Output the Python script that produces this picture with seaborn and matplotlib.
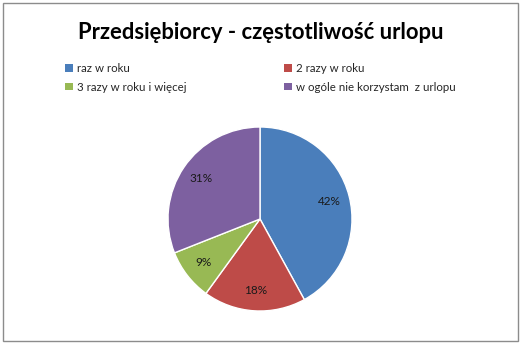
"""Pie chart: Przedsiębiorcy - częstotliwość urlopu."""
import matplotlib
matplotlib.use("Agg")
import matplotlib.pyplot as plt
from matplotlib.patches import Patch, Rectangle
import seaborn as sns

categories = ["raz w roku", "2 razy w roku", "3 razy w roku i więcej",
              "w ogóle nie korzystam  z urlopu"]
values = [42, 18, 9, 31]
colors = ["#4A7EBB", "#BE4B48", "#98B954", "#7D60A0"]

sns.set_theme(style="white")
plt.rcParams["font.family"] = ["Lato", "DejaVu Sans"]

fig = plt.figure(figsize=(5.21, 3.44), dpi=100)
fig.patch.set_facecolor("white")

# outer frame like the Excel chart area
fig.add_artist(Rectangle((0.006, 0.009), 0.988, 0.982, transform=fig.transFigure,
                         fill=False, edgecolor="#8c8c8c", lw=1.0))

fig.text(0.5, 0.905, "Przedsiębiorcy - częstotliwość urlopu", ha="center",
         va="center", fontsize=15.8, fontweight="bold", color="black")

# pie: centre (260, 219) px, radius ~92 px
ax = fig.add_axes([(260 - 92) / 521, 1 - (219 + 92) / 344, 184 / 521, 184 / 344])
wedges, _, autotexts = ax.pie(values, colors=colors, startangle=90,
                              counterclock=False, autopct="%1.0f%%",
                              pctdistance=0.78,
                              textprops={"fontsize": 8.5, "color": "#1a1a1a"})
ax.set_xlim(-1, 1)
ax.set_ylim(-1, 1)
ax.set_aspect("equal")

# legend filled row by row, like the reference
order = [0, 2, 1, 3]
handles = [Patch(facecolor=colors[i], edgecolor="none") for i in order]
labels = [categories[i] for i in order]
fig.legend(handles, labels, ncol=2, loc="upper left",
           bbox_to_anchor=(0.105, 0.847), frameon=False, fontsize=8.3,
           handlelength=0.65, handleheight=0.65, handletextpad=0.35,
           columnspacing=8.5, labelspacing=0.65)

fig.savefig("out.png", dpi=100)
